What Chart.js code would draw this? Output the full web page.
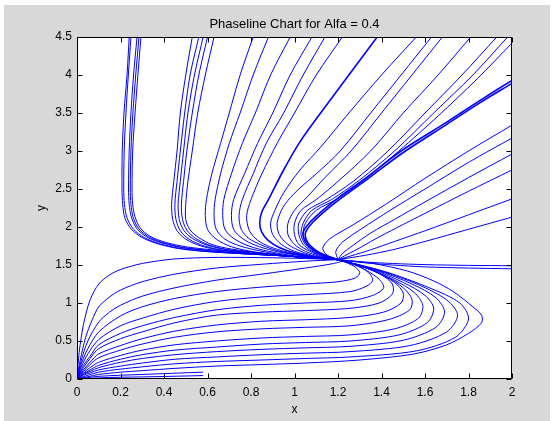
<!DOCTYPE html>
<html>
<head>
<meta charset="utf-8">
<title>Phaseline Chart</title>
<script src="https://cdn.jsdelivr.net/npm/chart.js@4.4.1/dist/chart.umd.min.js"></script>
<style>
  html, body { margin: 0; padding: 0; background: #fff; }
  canvas { display: block; }
</style>
</head>
<body>
<canvas id="myChart" width="560" height="421"></canvas>
<script>
// tick labels
const xTicks = [0, 0.2, 0.4, 0.6, 0.8, 1, 1.2, 1.4, 1.6, 1.8, 2];
const xTickLabels = ['0', '0.2', '0.4', '0.6', '0.8', '1', '1.2', '1.4', '1.6', '1.8', '2'];
const yTicks = [0, 0.5, 1, 1.5, 2, 2.5, 3, 3.5, 4, 4.5];
const yTickLabels = ['0', '0.5', '1', '1.5', '2', '2.5', '3', '3.5', '4', '4.5'];

// trajectories coming down from the top-left (x ~ 0.2)
const curveA1 = [[0.24,4.5],[0.23,4.0],[0.216,3.5],[0.208,3.0],[0.207,2.5],[0.21,2.3],[0.22,2.12],[0.25,1.97],[0.3,1.86],[0.37,1.78],[0.46,1.72],[0.58,1.68],[0.75,1.65],[0.95,1.62],[1.1,1.59],[1.2,1.57]];
const curveA2 = [[0.248,4.5],[0.236,4.0],[0.225,3.5],[0.217,3.0],[0.215,2.5],[0.218,2.3],[0.23,2.12],[0.26,1.97],[0.31,1.86],[0.38,1.78],[0.47,1.72],[0.59,1.68],[0.75,1.65],[0.95,1.62],[1.1,1.59],[1.2,1.57]];
const curveA3 = [[0.276,4.5],[0.26,4.0],[0.248,3.5],[0.24,3.0],[0.237,2.5],[0.24,2.3],[0.25,2.13],[0.275,1.98],[0.32,1.87],[0.39,1.79],[0.48,1.73],[0.6,1.69],[0.76,1.65],[0.95,1.62],[1.1,1.59],[1.2,1.57]];
const curveA4 = [[0.285,4.5],[0.27,4.0],[0.257,3.5],[0.248,3.0],[0.245,2.5],[0.248,2.3],[0.258,2.13],[0.283,1.98],[0.33,1.87],[0.4,1.79],[0.49,1.73],[0.61,1.69],[0.77,1.65],[0.95,1.62],[1.1,1.59],[1.2,1.57]];
const curveA5 = [[0.294,4.5],[0.28,4.0],[0.267,3.5],[0.256,3.0],[0.253,2.5],[0.256,2.3],[0.266,2.14],[0.29,1.99],[0.335,1.88],[0.405,1.8],[0.5,1.74],[0.62,1.7],[0.78,1.66],[0.96,1.62],[1.1,1.59],[1.2,1.57]];

// trajectories from the top around x ~ 0.55
const curveB1 = [[0.53,4.5],[0.5,4.0],[0.475,3.5],[0.46,3.0],[0.445,2.6],[0.435,2.3],[0.44,2.1],[0.46,1.95],[0.5,1.84],[0.57,1.75],[0.67,1.69],[0.8,1.65],[0.95,1.62],[1.1,1.59],[1.2,1.57]];
const curveB2 = [[0.56,4.5],[0.52,4.0],[0.495,3.5],[0.475,3.0],[0.46,2.6],[0.45,2.3],[0.455,2.1],[0.475,1.95],[0.515,1.84],[0.585,1.75],[0.68,1.69],[0.81,1.65],[0.95,1.62],[1.1,1.59],[1.2,1.57]];
const curveB3 = [[0.58,4.5],[0.54,4.0],[0.51,3.5],[0.49,3.0],[0.475,2.6],[0.465,2.3],[0.47,2.1],[0.49,1.96],[0.53,1.85],[0.6,1.76],[0.69,1.7],[0.82,1.65],[0.96,1.62],[1.1,1.59],[1.2,1.57]];
const curveB4 = [[0.6,4.5],[0.56,4.0],[0.53,3.5],[0.505,3.0],[0.49,2.6],[0.48,2.3],[0.485,2.1],[0.505,1.96],[0.545,1.85],[0.61,1.76],[0.7,1.7],[0.83,1.66],[0.96,1.62],[1.1,1.59],[1.2,1.57]];
const curveB5 = [[0.63,4.5],[0.59,4.0],[0.555,3.5],[0.53,3.0],[0.51,2.6],[0.5,2.3],[0.5,2.1],[0.52,1.96],[0.56,1.86],[0.62,1.77],[0.71,1.71],[0.84,1.66],[0.97,1.62],[1.1,1.59],[1.2,1.57]];

// trajectories from the top between x 0.8 and 1.4
const curveC1 = [[0.81,4.5],[0.75,4.0],[0.7,3.5],[0.66,3.1],[0.62,2.7],[0.595,2.36],[0.59,2.15],[0.6,1.97],[0.64,1.84],[0.71,1.74],[0.82,1.67],[0.97,1.62],[1.1,1.59],[1.2,1.57]];
const curveC2 = [[0.88,4.5],[0.81,4.0],[0.75,3.5],[0.7,3.1],[0.66,2.7],[0.635,2.36],[0.63,2.15],[0.64,1.97],[0.68,1.84],[0.75,1.75],[0.85,1.68],[0.98,1.62],[1.1,1.59],[1.2,1.57]];
const curveC3 = [[0.98,4.5],[0.89,4.0],[0.82,3.5],[0.76,3.1],[0.71,2.7],[0.675,2.36],[0.67,2.15],[0.68,1.97],[0.72,1.85],[0.79,1.75],[0.88,1.68],[1.0,1.62],[1.1,1.59],[1.2,1.57]];
const curveC4 = [[1.08,4.5],[0.98,4.0],[0.9,3.5],[0.83,3.1],[0.77,2.7],[0.72,2.36],[0.71,2.15],[0.72,1.97],[0.76,1.85],[0.82,1.76],[0.9,1.69],[1.01,1.63],[1.1,1.6],[1.2,1.57]];
const curveC5 = [[1.14,4.5],[1.04,4.0],[0.95,3.5],[0.87,3.1],[0.81,2.7],[0.76,2.36],[0.745,2.15],[0.755,1.97],[0.79,1.85],[0.85,1.76],[0.92,1.69],[1.02,1.63],[1.1,1.6],[1.2,1.57]];
const curveC6 = [[1.22,4.5],[1.1,4.0],[1.0,3.5],[0.92,3.1],[0.85,2.7],[0.8,2.36],[0.78,2.15],[0.79,1.97],[0.82,1.85],[0.87,1.76],[0.94,1.69],[1.03,1.63],[1.1,1.6],[1.2,1.57]];
const curveCB = [[1.38,4.5],[1.25,4.0],[1.12,3.5],[1.025,3.12],[0.95,2.75],[0.88,2.36],[0.85,2.2],[0.84,2.05],[0.85,1.93],[0.88,1.82],[0.93,1.73],[1.0,1.66],[1.1,1.6],[1.2,1.57]];

// trajectories from the top-right corner
const curveU1 = [[1.56,4.5],[1.4,4.0],[1.25,3.5],[1.12,3.05],[1.025,2.75],[0.95,2.45],[0.91,2.22],[0.89,2.05],[0.9,1.9],[0.94,1.77],[1.0,1.68],[1.1,1.61],[1.2,1.57]];
const curveU2 = [[1.63,4.5],[1.49,4.0],[1.35,3.5],[1.21,3.0],[1.1,2.7],[1.02,2.5],[0.97,2.35],[0.94,2.22],[0.92,2.05],[0.93,1.9],[0.97,1.77],[1.03,1.68],[1.1,1.61],[1.2,1.57]];
const curveU3 = [[1.68,4.5],[1.54,4.0],[1.4,3.5],[1.26,3.0],[1.14,2.65],[1.06,2.4],[1.0,2.22],[0.97,2.05],[0.97,1.9],[1.0,1.77],[1.05,1.68],[1.12,1.61],[1.2,1.57]];
const curveU4 = [[1.81,4.5],[1.66,4.0],[1.5,3.5],[1.35,3.0],[1.2,2.6],[1.1,2.36],[1.03,2.22],[1.0,2.05],[1.0,1.9],[1.02,1.77],[1.07,1.68],[1.13,1.61],[1.2,1.57]];
const curveU5 = [[1.93,4.5],[1.77,4.0],[1.6,3.5],[1.43,3.0],[1.27,2.6],[1.14,2.35],[1.06,2.22],[1.02,2.05],[1.02,1.9],[1.04,1.77],[1.08,1.68],[1.14,1.61],[1.2,1.57]];
const curveU6 = [[1.98,4.5],[1.82,4.0],[1.64,3.5],[1.46,3.0],[1.3,2.62],[1.17,2.36],[1.08,2.22],[1.04,2.05],[1.03,1.9],[1.05,1.77],[1.09,1.68],[1.15,1.61],[1.2,1.57]];
const curveU7 = [[2.0,4.42],[1.84,3.95],[1.66,3.46],[1.48,3.0],[1.32,2.62],[1.19,2.36],[1.1,2.22],[1.05,2.05],[1.04,1.9],[1.06,1.77],[1.1,1.68],[1.15,1.61],[1.2,1.57]];
const curveRB1 = [[2.0,3.93],[1.85,3.66],[1.7,3.38],[1.49,3.0],[1.33,2.65],[1.2,2.38],[1.13,2.22],[1.07,2.06],[1.04,1.93],[1.05,1.8],[1.09,1.69],[1.14,1.62],[1.2,1.57]];
const curveRB2 = [[2.0,3.89],[1.85,3.63],[1.7,3.35],[1.5,2.98],[1.34,2.64],[1.21,2.37],[1.14,2.21],[1.08,2.05],[1.05,1.92],[1.06,1.8],[1.1,1.69],[1.15,1.62],[1.2,1.57]];

// trajectories entering from the right edge
const curveR1 = [[2.0,3.34],[1.8,3.0],[1.6,2.64],[1.42,2.3],[1.27,2.03],[1.16,1.84],[1.13,1.72],[1.15,1.63],[1.2,1.57]];
const curveR2 = [[2.0,3.17],[1.8,2.85],[1.6,2.5],[1.44,2.22],[1.31,1.98],[1.22,1.8],[1.19,1.68],[1.2,1.57]];
const curveR3 = [[2.0,2.96],[1.8,2.65],[1.6,2.33],[1.46,2.1],[1.35,1.92],[1.27,1.76],[1.22,1.65],[1.2,1.57]];
const curveR4 = [[2.0,2.75],[1.8,2.47],[1.6,2.18],[1.47,1.99],[1.37,1.84],[1.29,1.71],[1.23,1.62],[1.2,1.57]];
const curveR5 = [[2.0,2.37],[1.8,2.16],[1.6,1.95],[1.46,1.81],[1.35,1.7],[1.26,1.62],[1.2,1.57]];
const curveR6 = [[2.0,2.13],[1.8,1.97],[1.6,1.81],[1.45,1.7],[1.33,1.63],[1.2,1.57]];
const curveH1 = [[2.0,1.49],[1.8,1.495],[1.6,1.505],[1.45,1.52],[1.32,1.54],[1.2,1.57]];
const curveH2 = [[2.0,1.45],[1.8,1.46],[1.6,1.475],[1.45,1.5],[1.32,1.53],[1.2,1.57]];

// trajectories leaving the origin
const curveO1 = [[0,0],[0.01,0.35],[0.03,0.72],[0.06,1.04],[0.1,1.25],[0.15,1.37],[0.2,1.44],[0.3,1.52],[0.45,1.58],[0.65,1.6],[0.9,1.595],[1.05,1.585],[1.2,1.57]];
const curveO2 = [[0,0],[0.015,0.25],[0.04,0.55],[0.07,0.78],[0.1,0.95],[0.15,1.08],[0.2,1.17],[0.3,1.28],[0.45,1.38],[0.64,1.46],[0.85,1.51],[1.05,1.55],[1.2,1.57]];
const curveO3 = [[0,0],[0.02,0.25],[0.05,0.5],[0.1,0.75],[0.15,0.88],[0.2,0.97],[0.3,1.09],[0.45,1.2],[0.64,1.3],[0.85,1.38],[1.05,1.46],[1.18,1.52],[1.22,1.555],[1.2,1.57]];
const loopA = [[0,0],[0.02,0.2],[0.05,0.4],[0.1,0.62],[0.2,0.83],[0.3,0.95],[0.45,1.06],[0.64,1.15],[0.85,1.21],[1.05,1.25],[1.2,1.28],[1.28,1.33],[1.3,1.4],[1.28,1.47],[1.24,1.53],[1.2,1.57]];
const loopB = [[0,0],[0.02,0.16],[0.05,0.33],[0.1,0.52],[0.2,0.7],[0.3,0.8],[0.45,0.92],[0.64,1.02],[0.85,1.08],[1.05,1.11],[1.255,1.15],[1.33,1.22],[1.36,1.3],[1.34,1.4],[1.29,1.49],[1.2,1.57]];
const loopC = [[0,0],[0.03,0.18],[0.06,0.3],[0.1,0.45],[0.2,0.6],[0.3,0.7],[0.45,0.81],[0.64,0.91],[0.85,0.97],[1.05,1.0],[1.255,1.03],[1.36,1.1],[1.41,1.2],[1.39,1.31],[1.33,1.43],[1.26,1.52],[1.2,1.57]];
const loopD = [[0,0],[0.03,0.15],[0.06,0.27],[0.1,0.4],[0.2,0.53],[0.3,0.62],[0.45,0.74],[0.64,0.84],[0.85,0.88],[1.05,0.9],[1.255,0.93],[1.39,1.0],[1.45,1.12],[1.45,1.25],[1.4,1.37],[1.32,1.48],[1.2,1.57]];
const loopE = [[0,0],[0.03,0.12],[0.06,0.22],[0.1,0.33],[0.2,0.44],[0.3,0.53],[0.45,0.63],[0.64,0.71],[0.85,0.76],[1.05,0.78],[1.255,0.81],[1.41,0.88],[1.49,1.0],[1.5,1.13],[1.46,1.27],[1.38,1.4],[1.29,1.5],[1.2,1.57]];
const loopF = [[0,0],[0.03,0.1],[0.06,0.19],[0.1,0.28],[0.2,0.38],[0.3,0.46],[0.45,0.55],[0.64,0.62],[0.85,0.66],[1.05,0.68],[1.255,0.7],[1.43,0.78],[1.53,0.91],[1.54,1.05],[1.5,1.2],[1.42,1.35],[1.31,1.48],[1.2,1.57]];
const loopG = [[0,0],[0.03,0.08],[0.06,0.15],[0.1,0.22],[0.2,0.31],[0.3,0.38],[0.45,0.45],[0.64,0.5],[0.85,0.54],[1.05,0.56],[1.255,0.58],[1.46,0.66],[1.57,0.8],[1.59,0.97],[1.55,1.14],[1.46,1.3],[1.34,1.45],[1.2,1.57]];
const loopH = [[0,0],[0.03,0.07],[0.06,0.12],[0.1,0.18],[0.2,0.26],[0.3,0.32],[0.45,0.38],[0.64,0.42],[0.85,0.46],[1.05,0.48],[1.255,0.5],[1.48,0.58],[1.61,0.74],[1.64,0.93],[1.6,1.1],[1.5,1.27],[1.36,1.44],[1.2,1.57]];
const loopI = [[0,0],[0.03,0.06],[0.06,0.1],[0.1,0.15],[0.2,0.22],[0.3,0.27],[0.45,0.32],[0.64,0.36],[0.85,0.39],[1.05,0.41],[1.255,0.43],[1.5,0.51],[1.65,0.68],[1.69,0.88],[1.65,1.07],[1.54,1.25],[1.38,1.43],[1.2,1.57]];
const loopJ = [[0,0],[0.03,0.05],[0.06,0.08],[0.1,0.12],[0.2,0.17],[0.3,0.21],[0.45,0.26],[0.64,0.29],[0.85,0.32],[1.05,0.34],[1.255,0.36],[1.53,0.44],[1.7,0.62],[1.75,0.84],[1.7,1.04],[1.57,1.24],[1.4,1.42],[1.2,1.57]];
const loopK = [[0,0],[0.04,0.04],[0.1,0.09],[0.2,0.13],[0.3,0.16],[0.45,0.2],[0.64,0.23],[0.85,0.25],[1.05,0.27],[1.255,0.29],[1.56,0.37],[1.74,0.55],[1.8,0.79],[1.76,1.0],[1.62,1.2],[1.42,1.41],[1.2,1.57]];
const loopL = [[0,0],[0.05,0.03],[0.1,0.06],[0.2,0.09],[0.3,0.11],[0.45,0.14],[0.64,0.17],[0.85,0.19],[1.05,0.21],[1.3,0.25],[1.55,0.33],[1.7,0.45],[1.8,0.6],[1.86,0.74],[1.86,0.84],[1.82,0.95],[1.73,1.15],[1.64,1.29],[1.52,1.42],[1.36,1.52],[1.2,1.57]];
const lowM = [[0,0],[0.1,0.035],[0.3,0.06],[0.58,0.09]];
const lowN = [[0,0],[0.15,0.02],[0.35,0.03],[0.58,0.045]];

const thinCurves = [
    curveA1, curveA2, curveA3, curveA4, curveA5,
    curveB1, curveB2, curveB3, curveB4, curveB5,
    curveC1, curveC2, curveC3, curveC4, curveC5, curveC6,
    curveU1, curveU2, curveU3, curveU4, curveU5, curveU6, curveU7,
    curveR1, curveR2, curveR3, curveR4, curveR5, curveR6, curveH1, curveH2,
    curveO1, curveO2, curveO3,
    loopA, loopB, loopC, loopD, loopE, loopF, loopG, loopH, loopI, loopJ, loopK, loopL,
    lowM, lowN
];
const boldCurves = [curveCB, curveRB1, curveRB2];

const lineBlue = 'rgb(0,0,255)';
const figGray = '#d8d8d8';
const fontName = '"Liberation Sans", Arial, Helvetica, sans-serif';

const datasets = [];
thinCurves.forEach(c => {
    datasets.push({ data: c, showLine: true, borderColor: lineBlue, borderWidth: 1, pointRadius: 0, tension: 0.3 });
});
boldCurves.forEach(c => {
    datasets.push({ data: c, showLine: true, borderColor: lineBlue, borderWidth: 1.6, pointRadius: 0, tension: 0.3 });
});

// gray figure, white axes, black box with inward ticks like matlab
const matlabFrame = {
    id: 'matlabFrame',
    beforeDraw(chart) {
        const ctx = chart.ctx;
        const a = chart.chartArea;
        ctx.save();
        ctx.fillStyle = '#fff';
        ctx.fillRect(0, 0, chart.width, chart.height);
        ctx.fillStyle = figGray;
        ctx.fillRect(4, 5, 546, 416);
        ctx.fillStyle = '#fff';
        ctx.fillRect(a.left, a.top, a.right - a.left, a.bottom - a.top);
        ctx.restore();
    },
    afterDraw(chart) {
        const ctx = chart.ctx;
        const a = chart.chartArea;
        const l = Math.round(a.left) + 0.5, r = Math.round(a.right) - 0.5;
        const t = Math.round(a.top) + 0.5, b = Math.round(a.bottom) - 0.5;
        const tl = 5;
        ctx.save();
        ctx.strokeStyle = '#000';
        ctx.lineWidth = 1;
        ctx.beginPath();
        ctx.rect(l, t, r - l, b - t);
        xTicks.forEach(v => {
            const px = Math.round(chart.scales.x.getPixelForValue(v)) + 0.5;
            ctx.moveTo(px, b); ctx.lineTo(px, b - tl);
            ctx.moveTo(px, t); ctx.lineTo(px, t + tl);
        });
        yTicks.forEach(v => {
            const py = Math.round(chart.scales.y.getPixelForValue(v)) + 0.5;
            ctx.moveTo(l, py); ctx.lineTo(l + tl, py);
            ctx.moveTo(r, py); ctx.lineTo(r - tl, py);
        });
        ctx.stroke();
        ctx.restore();
    }
};

const cv = document.querySelector('#myChart').getContext('2d');
const myChart = new Chart(cv, {
    type: 'scatter',
    data: { datasets: datasets },
    options: {
        responsive: false,
        animation: false,
        devicePixelRatio: 1,
        layout: { padding: { left: 0, right: 48, top: 0, bottom: 0 } },
        plugins: {
            legend: { display: false },
            tooltip: { enabled: false },
            title: {
                display: true,
                fullSize: false,
                text: 'Phaseline Chart for Alfa = 0.4',
                color: '#000',
                font: { family: fontName, size: 13, weight: 'normal', lineHeight: 1.2 },
                padding: { top: 16.2, bottom: 5.2 }
            }
        },
        scales: {
            x: {
                type: 'linear',
                min: 0,
                max: 2,
                grid: { display: false, drawTicks: false },
                border: { display: false },
                afterBuildTicks: (scale) => { scale.ticks = xTicks.map(v => ({ value: v })); },
                afterFit: (scale) => { scale.height = 42; },
                ticks: {
                    color: '#000',
                    padding: 6,
                    maxRotation: 0,
                    autoSkip: false,
                    font: { family: fontName, size: 12, lineHeight: 1.2 },
                    callback: (v, i) => xTickLabels[i]
                },
                title: {
                    display: true,
                    text: 'x',
                    color: '#000',
                    font: { family: fontName, size: 12, lineHeight: 1.2 },
                    padding: { top: 0, bottom: 4 }
                }
            },
            y: {
                type: 'linear',
                min: 0,
                max: 4.5,
                grid: { display: false, drawTicks: false },
                border: { display: false },
                afterBuildTicks: (scale) => { scale.ticks = yTicks.map(v => ({ value: v })); },
                afterFit: (scale) => { scale.width = 77; },
                ticks: {
                    color: '#000',
                    padding: 5,
                    autoSkip: false,
                    font: { family: fontName, size: 12, lineHeight: 1.2 },
                    callback: (v, i) => yTickLabels[i]
                },
                title: {
                    display: true,
                    text: 'y',
                    color: '#000',
                    font: { family: fontName, size: 12, lineHeight: 1.2 },
                    padding: { top: 34, bottom: 0 }
                }
            }
        }
    },
    plugins: [matlabFrame]
});
</script>
</body>
</html>
